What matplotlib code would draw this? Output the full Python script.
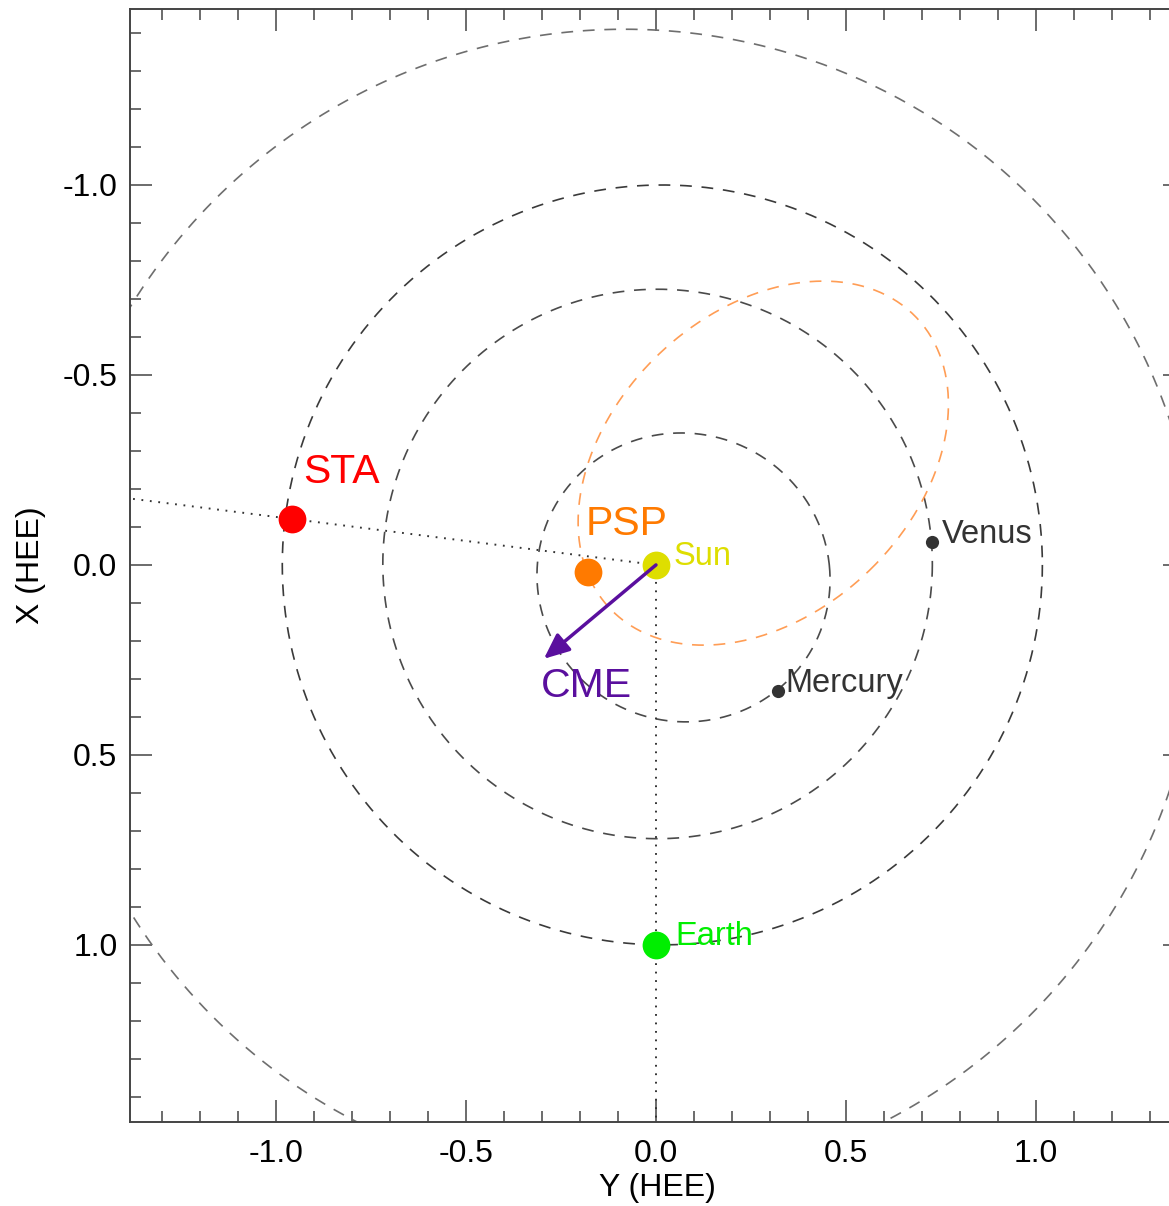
import numpy as np
import matplotlib
matplotlib.use("Agg")
import matplotlib.pyplot as plt
from matplotlib.ticker import MultipleLocator, FormatStrFormatter

plt.rcParams["font.family"] = ["Liberation Sans", "DejaVu Sans"]
plt.rcParams["axes.unicode_minus"] = False
plt.rcParams["lines.scale_dashes"] = False

# orbits: semi-major axis (AU), eccentricity, perihelion direction (deg in the Y-X plane)
orbit_names = ["Mars", "Earth", "Venus", "Mercury", "PSP"]
orbit_a = [1.524, 1.000, 0.723, 0.387, 0.556]
orbit_e = [0.0934, 0.0167, 0.0068, 0.2056, 0.700]
orbit_peri = [-51.7, 180.0, 149.0, 204.4, 136.5]
orbit_colors = ["#6e6e6e", "#3a3a3a", "#4a4a4a", "#4a4a4a", "#ff9d55"]

# body positions (Y_HEE, X_HEE) in AU
sun = (0.0, 0.0)
earth = (0.0, 1.0)
sta = (-0.958, -0.121)
psp = (-0.180, 0.018)
venus = (0.726, -0.060)
mercury = (0.321, 0.332)
cme_tip = (-0.295, 0.247)

# label anchors (left, baseline)
label_text = ["STA", "PSP", "CME", "Sun", "Earth", "Venus", "Mercury"]
label_pos = [(-0.929, -0.216), (-0.184, -0.079), (-0.302, 0.347),
             (0.047, 0.000), (0.050, 1.000), (0.753, -0.058), (0.340, 0.334)]
label_color = ["#ff0000", "#ff7a00", "#5a0f9e", "#dede00", "#00ee00",
               "#333333", "#333333"]
label_size = [29.5, 29.5, 29.5, 23.5, 23.5, 23.5, 23.5]

fig = plt.figure(figsize=(11.69, 12.06), dpi=100)
ax = fig.add_axes([130 / 1169, 84 / 1206, 1055 / 1169, 1113 / 1206])

theta = np.linspace(0, 2 * np.pi, 721)
for a, e, w, c in zip(orbit_a, orbit_e, orbit_peri, orbit_colors):
    r = a * (1 - e ** 2) / (1 + e * np.cos(theta - np.radians(w)))
    ax.plot(r * np.cos(theta), r * np.sin(theta), color=c, lw=1.2,
            linestyle=(0, (8.5, 7.0)), zorder=2)

# Sun-STA and Sun-Earth lines
dots = (0, (1.3, 4.8))
t = np.array([0.0, 2.0])
ax.plot(sta[0] * t, sta[1] * t, color="#333333", lw=1.4, linestyle=dots, zorder=3)
ax.plot([0, 0], [0, 2.0], color="#333333", lw=1.4, linestyle=dots, zorder=3)

ax.plot(*sta, "o", color="#ff0000", ms=20, mec="none", zorder=5)
ax.plot(*psp, "o", color="#ff7a00", ms=20, mec="none", zorder=5)
ax.plot(*sun, "o", color="#dede00", ms=20, mec="none", zorder=5)
ax.plot(*earth, "o", color="#00ee00", ms=20, mec="none", zorder=5)
ax.plot(*venus, "o", color="#333333", ms=9.5, mec="none", zorder=5)
ax.plot(*mercury, "o", color="#333333", ms=9.5, mec="none", zorder=5)

ax.annotate("", xy=cme_tip, xytext=sun,
            arrowprops=dict(arrowstyle="-|>,head_length=0.55,head_width=0.24",
                            color="#5a0f9e", lw=2.5, mutation_scale=28,
                            shrinkA=0, shrinkB=0), zorder=6)

for s, (x, y), c, fs in zip(label_text, label_pos, label_color, label_size):
    ax.text(x, y, s, color=c, fontsize=fs, ha="left", va="baseline", zorder=7)

ax.set_xlim(-1.384, 1.392)
ax.set_ylim(1.466, -1.463)

ax.xaxis.set_major_locator(MultipleLocator(0.5))
ax.xaxis.set_minor_locator(MultipleLocator(0.1))
ax.yaxis.set_major_locator(MultipleLocator(0.5))
ax.yaxis.set_minor_locator(MultipleLocator(0.1))
ax.xaxis.set_major_formatter(FormatStrFormatter("%.1f"))
ax.yaxis.set_major_formatter(FormatStrFormatter("%.1f"))

ax.tick_params(which="both", direction="in", top=True, right=True,
               color="#444444", width=1.1, labelsize=23)
ax.tick_params(which="major", length=15.8)
ax.tick_params(which="minor", length=7.9)
ax.tick_params(axis="x", which="major", pad=12)
ax.tick_params(axis="y", which="major", pad=9)
for sp in ax.spines.values():
    sp.set_color("#444444")
    sp.set_linewidth(1.4)

ax.set_xlabel("Y (HEE)", fontsize=23, labelpad=3)
ax.set_ylabel("X (HEE)", fontsize=23, labelpad=12)

fig.savefig("out.png", dpi=100)
